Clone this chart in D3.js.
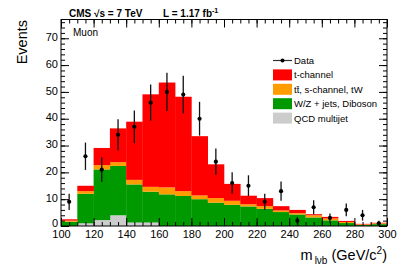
<!DOCTYPE html>
<html>
<head>
<meta charset="utf-8">
<script src="https://cdn.jsdelivr.net/npm/d3@7"></script>
<style>
  body { margin: 0; background: #fff; }
  svg { display: block; font-family: "Liberation Sans", Arial, Helvetica, sans-serif; }
</style>
</head>
<body>
<div id="chart"></div>
<script>
// m_lvb distribution, muon channel - stacked MC + data points

const binEdges = [100,110,120,130,140,150,160,170,180,190,200,210,220,230,240,250,260,270,280,290,300];
const qcd      = [0,1.0,2.2,4.0,1.3,1.3,0,0,0,0,0,0,0,0,0,0,0,0,0,0];
const wzJets   = [1.6,11.0,18.9,18.4,14.2,11.5,11.8,11.2,10.0,8.7,7.9,7.3,6.4,5.2,4.3,3.2,2.1,1.1,0.4,0.7];
const ttbarTW  = [0.4,1.0,1.6,1.4,1.7,1.8,2.6,1.8,1.4,1.7,1.5,0.8,1.0,0.6,0.5,0.8,0.7,0.4,0.2,0.3];
const tChannel = [0.5,2.0,6.4,12.6,21.7,34.5,39.1,35.2,22.1,12.6,6.3,3.2,3.0,1.6,1.2,0.4,0.6,0.4,0.2,0.2];

const dataX    = [105,115,125,135,145,155,165,175,185,195,205,215,225,235,245,255,265,275,285,295];
const dataY    = [9,26,21,34,37,46,50,49,40,24,16,15,9,13,2,7,3,6,4,1];
const dataErr  = [3,5.1,4.6,5.8,6.1,6.8,7.1,7,6.3,4.9,4,3.9,3,3.6,1.4,2.6,1.7,2.4,2,1];

const xTicks = [100,120,140,160,180,200,220,240,260,280,300];
const yTicks = [0,10,20,30,40,50,60,70];

const layerKeys   = ['qcd', 'wz', 'top', 'tch'];
const layerColors = { qcd: '#cccccc', wz: '#009900', top: '#ff9c00', tch: '#ff0000' };

const legendItems = [
    { label: 'Data', type: 'data' },
    { label: 't-channel', color: '#ff0000' },
    { label: 't\u0074\u0304, s-channel, tW', color: '#ff9c00' },
    { label: 'W/Z + jets, Diboson', color: '#009900' },
    { label: 'QCD multijet', color: '#cccccc' }
];

const width = 407, height = 276;
const margin = { top: 19.5, right: 20, bottom: 50, left: 61 };
const innerW = width - margin.left - margin.right;
const innerH = height - margin.top - margin.bottom;

const svg = d3.select('#chart').append('svg')
    .attr('width', width)
    .attr('height', height);

const g = svg.append('g')
    .attr('transform', `translate(${margin.left},${margin.top})`);

const x = d3.scaleLinear().domain([100, 300]).range([0, innerW]);
const y = d3.scaleLinear().domain([0, 77]).range([innerH, 0]);

// Build stacked table
const table = binEdges.slice(0, -1).map((lo, i) => ({
    lo: lo, hi: binEdges[i + 1],
    qcd: qcd[i], wz: wzJets[i], top: ttbarTW[i], tch: tChannel[i]
}));
const series = d3.stack().keys(layerKeys)(table);

g.selectAll('.layer')
    .data(series)
    .join('g')
    .attr('class', 'layer')
    .attr('fill', d => layerColors[d.key])
    .selectAll('rect')
    .data(d => d)
    .join('rect')
    .attr('x', d => x(d.data.lo))
    .attr('width', d => x(d.data.hi) - x(d.data.lo) + 0.3)
    .attr('y', d => y(d[1]))
    .attr('height', d => Math.max(0, y(d[0]) - y(d[1])));

// Axes with ROOT-like inward ticks
const xMinor = d3.range(100, 301, 5);
const yMinor = d3.range(0, 77, 2);

g.append('g').attr('transform', `translate(0,${innerH})`)
    .call(d3.axisBottom(x).tickValues(xMinor).tickSize(-4).tickFormat(''));
g.append('g').attr('transform', `translate(0,${innerH})`)
    .call(d3.axisBottom(x).tickValues(xTicks).tickSize(-8).tickPadding(4.5).tickFormat(d3.format('d')));
g.append('g')
    .call(d3.axisTop(x).tickValues(xMinor).tickSize(-4).tickFormat(''));
g.append('g')
    .call(d3.axisTop(x).tickValues(xTicks).tickSize(-8).tickFormat(''));

g.append('g')
    .call(d3.axisLeft(y).tickValues(yMinor).tickSize(-4).tickFormat(''));
const yAx = g.append('g')
    .call(d3.axisLeft(y).tickValues(yTicks).tickSize(-8).tickPadding(3).tickFormat(d3.format('d')));
yAx.selectAll('text').attr('dy', d => d === 0 ? '0.05em' : '0.2em');
g.append('g').attr('transform', `translate(${innerW},0)`)
    .call(d3.axisRight(y).tickValues(yMinor).tickSize(-4).tickFormat(''));
g.append('g').attr('transform', `translate(${innerW},0)`)
    .call(d3.axisRight(y).tickValues(yTicks).tickSize(-8).tickFormat(''));

g.selectAll('.domain').remove();
g.selectAll('.tick line').attr('stroke', '#000');
g.selectAll('.tick text').attr('font-size', 11).attr('fill', '#000')
    .attr('font-family', '"Liberation Sans", Arial, sans-serif');

// frame
g.append('rect')
    .attr('width', innerW).attr('height', innerH)
    .attr('fill', 'none').attr('stroke', '#000').attr('stroke-width', 1);

// Data points
const pts = dataX.map((v, i) => ({ x: v, y: dataY[i], e: dataErr[i] }));
g.selectAll('.err')
    .data(pts)
    .join('line')
    .attr('class', 'err')
    .attr('x1', d => x(d.x)).attr('x2', d => x(d.x))
    .attr('y1', d => y(d.y + d.e)).attr('y2', d => y(Math.max(0, d.y - d.e)))
    .attr('stroke', '#111').attr('stroke-width', 1.3);
g.selectAll('.pt')
    .data(pts)
    .join('circle')
    .attr('class', 'pt')
    .attr('cx', d => x(d.x)).attr('cy', d => y(d.y))
    .attr('r', 2.1).attr('fill', '#000');

// Legend
const leg = svg.append('g').attr('transform', 'translate(273,60.5)');
legendItems.forEach((it, i) => {
    const row = leg.append('g').attr('transform', `translate(0,${i * 14.4})`);
    if (it.type === 'data') {
        row.append('line').attr('x1', 0).attr('x2', 19).attr('y1', 0).attr('y2', 0)
            .attr('stroke', '#333').attr('stroke-width', 1.2);
        row.append('circle').attr('cx', 9.5).attr('cy', 0).attr('r', 2).attr('fill', '#000');
    } else {
        row.append('rect').attr('x', 0).attr('y', -5.5).attr('width', 19).attr('height', 11)
            .attr('fill', it.color);
    }
    row.append('text').attr('x', 21).attr('y', 3.4)
        .attr('font-size', 9.5).text(it.label);
});

// Header texts
svg.append('text').attr('x', 69).attr('y', 16.5)
    .attr('font-size', 10).attr('font-weight', 'bold')
    .text('CMS \u221As = 7 TeV');
const lumi = svg.append('text').attr('x', 163).attr('y', 16.5)
    .attr('font-size', 10).attr('font-weight', 'bold');
lumi.append('tspan').text('L = 1.17 fb');
lumi.append('tspan').attr('font-size', 7).attr('dy', -4).text('-1');

svg.append('text').attr('x', 73).attr('y', 36).attr('font-size', 10).text('Muon');

// Axis titles
svg.append('text')
    .attr('transform', 'translate(27,20) rotate(-90)')
    .attr('text-anchor', 'end')
    .attr('font-size', 14.5)
    .text('Events');

const xt = svg.append('text')
    .attr('x', 387).attr('y', 260)
    .attr('text-anchor', 'end')
    .attr('font-size', 14.5);
xt.append('tspan').text('m');
xt.append('tspan').attr('font-size', 10).attr('dy', 4).attr('dx', 2).text('l\u03bdb');
xt.append('tspan').attr('dy', -4).text(' (GeV/c');
xt.append('tspan').attr('font-size', 10).attr('dy', -6).text('2');
xt.append('tspan').attr('dy', 6).text(')');
</script>
</body>
</html>
